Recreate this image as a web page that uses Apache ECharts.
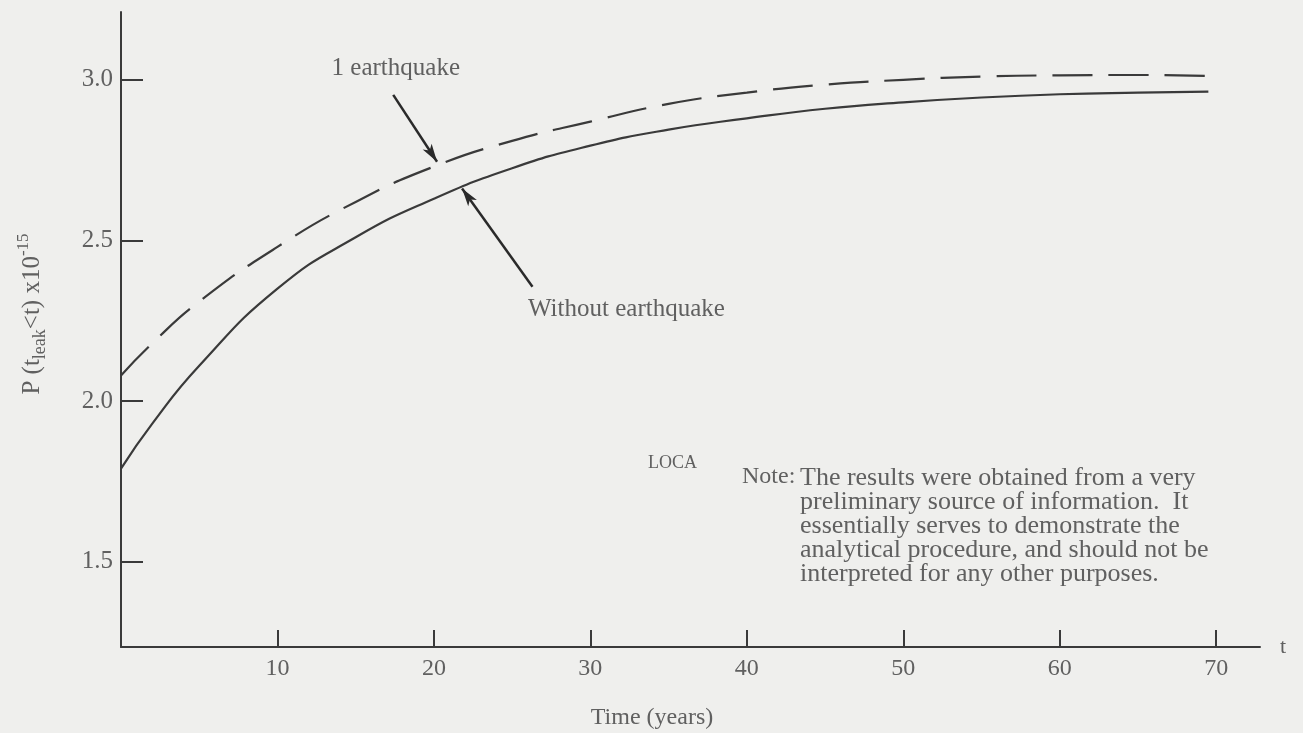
<!DOCTYPE html>
<html>
<head>
<meta charset="utf-8">
<script src="https://cdn.jsdelivr.net/npm/echarts@6/dist/echarts.min.js"></script>
<style>
  html, body { margin: 0; padding: 0; background: #efefed; }
  #p-leak { width: 1303px; height: 733px; }
</style>
</head>
<body>
<div id="p-leak"></div>
<script>
// time in years
var years = [0, 2, 5, 10, 15, 20, 25, 30, 35, 40, 45, 50, 55, 60, 65, 69.5];
// 1 earthquake (dashed)
var withQuake = [2.08, 2.18, 2.31, 2.48, 2.62, 2.73, 2.81, 2.87, 2.925, 2.96, 2.985, 3.0, 3.01, 3.014, 3.015, 3.012];
// without earthquake (solid)
var noQuake = [1.79, 1.93, 2.11, 2.35, 2.51, 2.63, 2.725, 2.795, 2.845, 2.88, 2.91, 2.93, 2.945, 2.955, 2.96, 2.963];

var xTicks = [10, 20, 30, 40, 50, 60, 70];
var yTicks = [1.5, 2.0, 2.5, 3.0];

var noteLines = [
    'The results were obtained from a very',
    'preliminary source of information.  It',
    'essentially serves to demonstrate the',
    'analytical procedure, and should not be',
    'interpreted for any other purposes.'
];

function pairs(xs, ys) {
    return xs.map(function (x, i) { return [x, ys[i]]; });
}

var ink = '#3a3a3a';
var textGray = '#606060';
var serif = '"Liberation Serif", "DejaVu Serif", serif';

var chartDom = document.getElementById('p-leak');
var chart = echarts.init(chartDom);

var arrowStyle = {
    silent: true,
    symbol: ['none', 'arrow'],
    symbolSize: [8, 18],
    label: { show: false },
    lineStyle: { color: '#2a2a2a', width: 2.5, type: 'solid' }
};

var option = {
    backgroundColor: '#efefed',
    animation: false,
    textStyle: { fontFamily: serif },
    grid: { left: 121, right: 43, top: 12, bottom: 86 },
    xAxis: {
        type: 'value',
        min: 0,
        max: 72.8,
        name: 't',
        nameLocation: 'end',
        nameGap: 20,
        nameTextStyle: { color: textGray, fontSize: 22, fontFamily: serif },
        axisLine: { lineStyle: { color: ink, width: 2 } },
        axisTick: { inside: true, length: 17, customValues: xTicks, lineStyle: { color: ink, width: 2 } },
        axisLabel: { customValues: xTicks, color: textGray, fontSize: 24, margin: 10, fontFamily: serif },
        splitLine: { show: false }
    },
    yAxis: {
        type: 'value',
        min: 1.235,
        max: 3.211,
        axisLine: { show: true, lineStyle: { color: ink, width: 2 } },
        axisTick: { show: true, inside: true, length: 22, customValues: yTicks, lineStyle: { color: ink, width: 2 } },
        axisLabel: {
            customValues: yTicks,
            color: textGray,
            fontSize: 25,
            margin: 8,
            fontFamily: serif,
            formatter: function (v) { return v.toFixed(1); }
        },
        splitLine: { show: false }
    },
    series: [
        {
            name: '1 earthquake',
            type: 'line',
            data: pairs(years, withQuake),
            smooth: 0.5,
            showSymbol: false,
            lineStyle: { color: ink, width: 2.2, type: [40, 16] },
            markLine: Object.assign({}, arrowStyle, {
                data: [[{ coord: [17.4, 2.953] }, { coord: [20.2, 2.745] }]]
            })
        },
        {
            name: 'Without earthquake',
            type: 'line',
            data: pairs(years, noQuake),
            smooth: 0.5,
            showSymbol: false,
            lineStyle: { color: ink, width: 2.2 },
            markLine: Object.assign({}, arrowStyle, {
                data: [[{ coord: [26.3, 2.356] }, { coord: [21.8, 2.662] }]]
            })
        }
    ],
    graphic: [
        {
            type: 'text', x: 32, y: 314, rotation: Math.PI / 2,
            style: {
                text: '{t|P (t}{sub|leak}{t|<t) x10}{sup|-15}',
                align: 'center', verticalAlign: 'middle',
                rich: {
                    t: { font: '25px ' + serif, fill: textGray, lineHeight: 34, verticalAlign: 'middle' },
                    sub: { font: '18px ' + serif, fill: textGray, lineHeight: 34, verticalAlign: 'bottom' },
                    sup: { font: '17px ' + serif, fill: textGray, lineHeight: 34, verticalAlign: 'top' }
                }
            }
        },
        { type: 'text', x: 460, y: 68, style: { text: '1 earthquake', font: '25px ' + serif, fill: textGray, align: 'right', verticalAlign: 'middle' } },
        { type: 'text', x: 528, y: 309, style: { text: 'Without earthquake', font: '25px ' + serif, fill: textGray, verticalAlign: 'middle' } },
        { type: 'text', x: 648, y: 463, style: { text: 'LOCA', font: '18px ' + serif, fill: textGray, verticalAlign: 'middle' } },
        { type: 'text', x: 742, y: 477, style: { text: 'Note:', font: '24px ' + serif, fill: textGray, verticalAlign: 'middle' } },
        {
            type: 'text', x: 800, y: 466,
            style: { text: noteLines.join('\n'), font: '26px ' + serif, lineHeight: 24, fill: textGray }
        },
        { type: 'text', x: 652, y: 718, style: { text: 'Time (years)', font: '24px ' + serif, fill: textGray, align: 'center', verticalAlign: 'middle' } }
    ]
};

if (option && typeof option === 'object') {
    chart.setOption(option, true);
}
</script>
</body>
</html>
